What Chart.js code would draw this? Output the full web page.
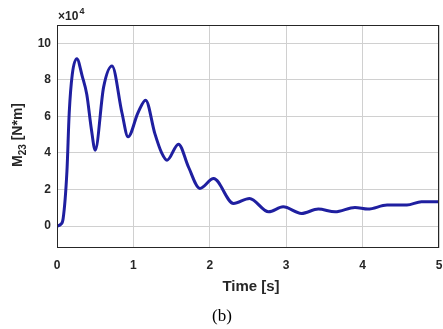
<!DOCTYPE html>
<html>
<head>
<meta charset="utf-8">
<script src="https://cdn.jsdelivr.net/npm/chart.js@4"></script>
<style>
  html, body { margin: 0; padding: 0; background: #fff; }
  #wrap { width: 443px; height: 329px; position: relative; }
</style>
</head>
<body>
<div id="wrap"><canvas id="chart"></canvas></div>
<script>
// time [s] and moment M23 [x10^4 N*m]
const timeS = [0, 0.05, 0.08, 0.13, 0.16, 0.2, 0.26, 0.33, 0.39, 0.45, 0.5, 0.61, 0.72, 0.85, 0.93,
  1.06, 1.16, 1.28, 1.37, 1.44, 1.59, 1.72, 1.87, 2.05, 2.31, 2.52, 2.77, 2.96, 3.2, 3.42, 3.64,
  3.9, 4.07, 4.32, 4.58, 4.77, 5.0];
const m23 = [0, 0.1, 0.4, 3.0, 6.2, 8.3, 9.16, 8.2, 7.2, 5.3, 4.15, 7.6, 8.76, 6.2, 4.88,
  6.2, 6.89, 5.07, 4.0, 3.6, 4.48, 3.24, 2.06, 2.6, 1.24, 1.51, 0.78, 1.05, 0.69, 0.93, 0.78,
  1.02, 0.93, 1.15, 1.15, 1.33, 1.33];
const xTicks = [0, 1, 2, 3, 4, 5];
const yTicks = [0, 2, 4, 6, 8, 10];

const textColor = "#262626";
const sans = "'Liberation Sans', Arial, sans-serif";

// extra labels: exponent, y label with subscript, frame, caption
const decorPlugin = {
  id: "decor",
  afterDraw(chart) {
    const c = chart.ctx;
    const a = chart.chartArea;
    c.save();
    c.strokeStyle = "#262626";
    c.lineWidth = 1;
    c.strokeRect(a.left + 0.5, a.top + 0.5, a.right - a.left - 1, a.bottom - a.top - 1);

    c.fillStyle = textColor;
    c.textBaseline = "alphabetic";
    c.textAlign = "left";
    c.font = "bold 12px " + sans;
    c.fillText("\u00d710", 58, 20);
    c.font = "bold 9px " + sans;
    c.fillText("4", 79.5, 14);

    // y axis title
    c.save();
    c.translate(22, 135);
    c.rotate(-Math.PI / 2);
    const p1 = "M", p2 = "23", p3 = " [N*m]";
    c.font = "bold 14px " + sans;
    const w1 = c.measureText(p1).width;
    const w3 = c.measureText(p3).width;
    c.font = "bold 10px " + sans;
    const w2 = c.measureText(p2).width;
    let x = -(w1 + w2 + w3) / 2;
    c.font = "bold 14px " + sans;
    c.fillText(p1, x, 0);
    x += w1;
    c.font = "bold 10px " + sans;
    c.fillText(p2, x, 4);
    x += w2;
    c.font = "bold 14px " + sans;
    c.fillText(p3, x, 0);
    c.restore();

    // x axis title
    c.textAlign = "center";
    c.font = "bold 15px " + sans;
    c.fillText("Time [s]", 251, 291);

    // caption
    c.fillStyle = "#000";
    c.textBaseline = "middle";
    c.font = "17px 'Liberation Serif', 'Times New Roman', serif";
    c.fillText("(b)", 222, 317);
    c.restore();
  }
};

new Chart(document.getElementById("chart"), {
  type: "line",
  data: {
    datasets: [{
      data: timeS.map((t, i) => ({ x: t, y: m23[i] })),
      borderColor: "#1f1fa0",
      borderWidth: 3,
      pointRadius: 0,
      cubicInterpolationMode: "monotone",
      fill: false
    }]
  },
  options: {
    responsive: true,
    maintainAspectRatio: false,
    animation: false,
    layout: { padding: { top: 25, right: 4, left: 0, bottom: 0 } },
    plugins: { legend: { display: false }, tooltip: { enabled: false } },
    scales: {
      x: {
        type: "linear",
        min: 0,
        max: 5,
        afterBuildTicks: (ax) => { ax.ticks = xTicks.map(v => ({ value: v })); },
        afterFit: (ax) => { ax.height = 81; ax.paddingLeft = 0; ax.paddingRight = 0; },
        grid: { color: "#d0d0d0", drawTicks: false },
        border: { display: false },
        ticks: {
          padding: 10,
          color: textColor,
          font: { family: sans, size: 12, weight: "bold" }
        }
      },
      y: {
        min: -1.2,
        max: 11,
        afterBuildTicks: (ax) => { ax.ticks = yTicks.map(v => ({ value: v })); },
        afterFit: (ax) => { ax.width = 57; ax.paddingTop = 0; ax.paddingBottom = 0; },
        grid: { color: "#d0d0d0", drawTicks: false },
        border: { display: false },
        ticks: {
          padding: 6,
          color: textColor,
          font: { family: sans, size: 12, weight: "bold" }
        }
      }
    }
  },
  plugins: [decorPlugin]
});
</script>
</body>
</html>
